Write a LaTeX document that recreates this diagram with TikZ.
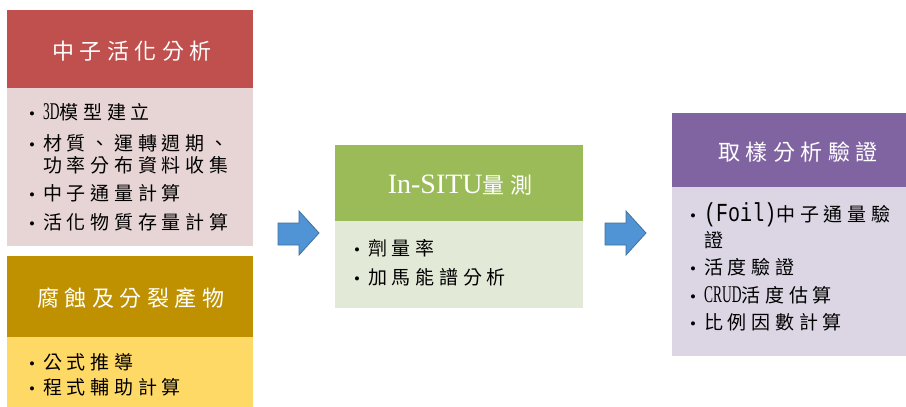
\documentclass[tikz,border=0pt]{standalone}
\usepackage{fontspec}
\newfontfamily\cjk[LetterSpace=25]{Noto Sans CJK TC}
\newfontfamily\latn[FakeStretch=0.56]{Liberation Serif}
\newfontfamily\latm[FakeStretch=0.77]{Liberation Mono}
\newfontfamily\latb{Liberation Serif}
\definecolor{redH}{HTML}{C0504D}
\definecolor{redB}{HTML}{E7D5D5}
\definecolor{goldH}{HTML}{BF9000}
\definecolor{goldB}{HTML}{FFD966}
\definecolor{greenH}{HTML}{9BBB59}
\definecolor{greenB}{HTML}{E2E9D6}
\definecolor{purpH}{HTML}{8064A2}
\definecolor{purpB}{HTML}{DCD6E4}
\definecolor{arrF}{HTML}{5094D6}
\definecolor{arrD}{HTML}{41719C}
\newcommand{\bul}{\makebox[14pt][l]{\latb\fontsize{17}{20}\selectfont •}}
\begin{document}
\begin{tikzpicture}[x=1pt,y=-1pt,
  boxpart/.style={draw=none,inner sep=0pt,outer sep=0pt},
  hdrtext/.style={inner sep=0pt,text=white,font=\cjk\fontsize{22}{26}\selectfont},
  itemtext/.style={anchor=west,inner sep=0pt,text=black,font=\cjk\fontsize{19}{22}\selectfont},
  blockarrow/.style={fill=arrF,draw=arrD,line width=0.8pt,line join=miter}]
\useasboundingbox (0,0) rectangle (906,407);
\clip (0,0) rectangle (906,407);
\fill[white] (0,0) rectangle (906,407);

% Box 1
\node[boxpart,fill=redH,minimum width=246pt,minimum height=78pt] (h1) at (130,49) {};
\node[boxpart,fill=redB,minimum width=246pt,minimum height=158pt] (b1) at (130,167) {};
\node[hdrtext] (t1) at (132,51) {中子活化分析};
\node[itemtext] (i11) at (29,112) {\bul{\latn\fontsize{24}{24}\selectfont 3D}模型建立};
\node[itemtext] (i12) at (29,143) {\bul 材質、運轉週期、};
\node[itemtext] (i13) at (43,165) {功率分布資料收集};
\node[itemtext] (i14) at (29,193) {\bul 中子通量計算};
\node[itemtext] (i15) at (29,222) {\bul 活化物質存量計算};

% Box 2
\node[boxpart,fill=goldH,minimum width=246pt,minimum height=81pt] (h2) at (130,296.5) {};
\node[boxpart,fill=goldB,minimum width=246pt,minimum height=83pt] (b2) at (130,378.5) {};
\node[hdrtext] (t2) at (131,298) {腐蝕及分裂產物};
\node[itemtext] (i21) at (29,362) {\bul 公式推導};
\node[itemtext] (i22) at (29,387) {\bul 程式輔助計算};

% Box 3
\node[boxpart,fill=greenH,minimum width=248pt,minimum height=76pt] (h3) at (459,183) {};
\node[boxpart,fill=greenB,minimum width=248pt,minimum height=87pt] (b3) at (459,264.5) {};
\node[hdrtext] (t3) at (460,185) {{\latb\fontsize{28}{28}\selectfont In-SITU}量測};
\node[itemtext] (i31) at (354,248) {\bul 劑量率};
\node[itemtext] (i32) at (354,277) {\bul 加馬能譜分析};

% Box 4
\node[boxpart,fill=purpH,minimum width=250pt,minimum height=74pt] (h4) at (797,150) {};
\node[boxpart,fill=purpB,minimum width=250pt,minimum height=169pt] (b4) at (797,271.5) {};
\node[hdrtext] (t4) at (798,152) {取樣分析驗證};
\node[itemtext] (i41) at (690,215) {\bul{\latm\fontsize{26}{26}\selectfont (Foil)}中子通量驗};
\node[itemtext] (i42) at (704,240) {證};
\node[itemtext] (i43) at (690,267) {\bul 活度驗證};
\node[itemtext] (i44) at (690,295) {\bul{\latn\fontsize{24}{24}\selectfont CRUD}活度估算};
\node[itemtext] (i45) at (690,322) {\bul 比例因數計算};

% Block arrows
\draw[blockarrow] (278,223) -- (299,223) -- (299,211) -- (319,233) -- (299,255) -- (299,245) -- (278,245) -- cycle;
\draw[blockarrow] (605,223) -- (626,223) -- (626,211) -- (646,233) -- (626,255) -- (626,245) -- (605,245) -- cycle;
\end{tikzpicture}
\end{document}
